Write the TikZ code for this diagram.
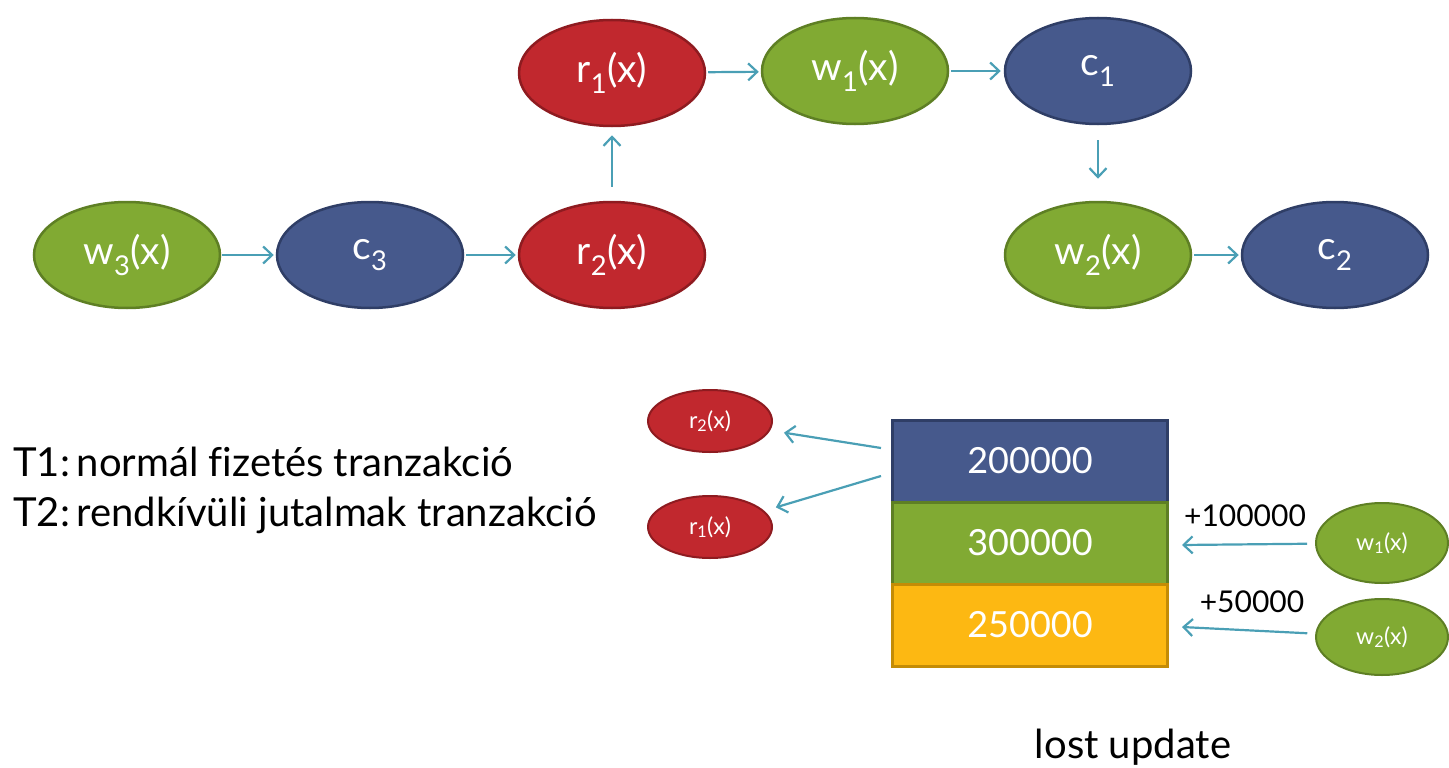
\documentclass[tikz,border=0pt]{standalone}
\usepackage{fontspec}
\setmainfont{Lato}[Ligatures=NoCommon]
\usetikzlibrary{shapes.geometric,arrows.meta}
\definecolor{redfill}{HTML}{C1282E}
\definecolor{redline}{HTML}{8E1B20}
\definecolor{greenfill}{HTML}{81AA33}
\definecolor{greenline}{HTML}{5E7F24}
\definecolor{bluefill}{HTML}{46598C}
\definecolor{blueline}{HTML}{2F3E66}
\definecolor{orangefill}{HTML}{FDB812}
\definecolor{orangeline}{HTML}{C48C06}
\definecolor{flow}{HTML}{4A9FB5}
% operation label with an index, e.g. \opl{r}{1}{(x)}
\newcommand{\opl}[3]{#1\textsubscript{#2}#3}
\tikzset{
  op/.style={ellipse, draw, line width=2.5pt, inner sep=0pt, text=white,
    minimum width=186pt, minimum height=106pt, font=\fontsize{39}{44}\selectfont},
  smallop/.style={op, line width=2pt, font=\fontsize{23}{26}\selectfont},
  readop/.style={fill=redfill, draw=redline},
  writeop/.style={fill=greenfill, draw=greenline},
  commitop/.style={fill=bluefill, draw=blueline},
  flowarrow/.style={draw=flow, line width=2.2pt,
    -{Straight Barb[length=9pt, width=17pt, line width=2.2pt]}},
  cell/.style={rectangle, draw, line width=3pt, inner sep=0pt, text=white,
    minimum width=275pt, minimum height=82pt, font=\fontsize{36}{42}\selectfont},
  plain/.style={font=\fontsize{40}{46}\selectfont, inner sep=0pt},
  delta/.style={font=\fontsize{30}{34}\selectfont, inner sep=0pt}
}
\begin{document}
\begin{tikzpicture}[x=1pt, y=-1pt]
\useasboundingbox (0,0) rectangle (1449,768);

% schedule graph
\node[op, writeop]  (w3) at (127,255) {\opl{w}{3}{(x)}};
\node[op, commitop] (c3) at (370,255) {\opl{c}{3}{}};
\node[op, readop]   (r2) at (612,255) {\opl{r}{2}{(x)}};
\node[op, readop]   (r1) at (612,73)  {\opl{r}{1}{(x)}};
\node[op, writeop]  (w1) at (855,71)  {\opl{w}{1}{(x)}};
\node[op, commitop] (c1) at (1098,71) {\opl{c}{1}{}};
\node[op, writeop]  (w2) at (1098,255) {\opl{w}{2}{(x)}};
\node[op, commitop] (c2) at (1335,255) {\opl{c}{2}{}};

\draw[flowarrow, shorten <=1pt, shorten >=2pt] (w3) -- (c3);
\draw[flowarrow, shorten <=2pt, shorten >=2pt] (c3) -- (r2);
\draw[flowarrow, shorten <=14pt, shorten >=8pt] (r2) -- (r1);
\draw[flowarrow, shorten <=2pt, shorten >=2pt] (r1) -- (w1);
\draw[flowarrow, shorten <=2pt, shorten >=3pt] (w1) -- (c1);
\draw[flowarrow, shorten <=15pt, shorten >=22pt] (c1) -- (w2);
\draw[flowarrow, shorten <=2pt, shorten >=2pt] (w2) -- (c2);

% transaction legend
\node[plain, anchor=base west] (t1) at (13,476) {T1:\,normál fizetés tranzakció};
\node[plain, anchor=base west] (t2) at (13,526) {T2:\,rendkívüli jutalmak tranzakció};

% value history of x
\node[cell, fill=bluefill, draw=blueline]     (v1) at (1030,461) {200000};
\node[cell, fill=greenfill, draw=greenline]   (v2) at (1030,543) {300000};
\node[cell, fill=orangefill, draw=orangeline] (v3) at (1030,625) {250000};

\node[smallop, readop, minimum width=124pt, minimum height=62pt] (sr2) at (710,421) {\opl{r}{2}{(x)}};
\node[smallop, readop, minimum width=124pt, minimum height=62pt] (sr1) at (710,527) {\opl{r}{1}{(x)}};
\node[smallop, writeop, minimum width=132pt, minimum height=80pt] (sw1) at (1382,543) {\opl{w}{1}{(x)}};
\node[smallop, writeop, minimum width=132pt, minimum height=76pt] (sw2) at (1382,637) {\opl{w}{2}{(x)}};

\coordinate (readA) at (881,448);
\coordinate (readB) at (881,476);
\coordinate (inA) at (1182,545);
\coordinate (inB) at (1182,627);
\draw[flowarrow, shorten >=14pt] (readA) -- (sr2);
\draw[flowarrow, shorten >=12pt] (readB) -- (sr1);
\draw[flowarrow, shorten <=8pt] (sw1) -- (inA);
\draw[flowarrow, shorten <=8pt] (sw2) -- (inB);

\node[delta] (d1) at (1245,516) {+100000};
\node[delta] (d2) at (1252,602) {+50000};

\node[plain, anchor=base] (lost) at (1133,758) {lost update};
\end{tikzpicture}
\end{document}
